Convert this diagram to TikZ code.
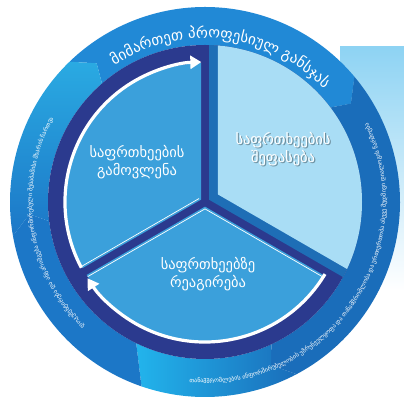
\documentclass[tikz,border=0pt]{standalone}
\usepackage{fontspec}
\setmainfont{DejaVu Sans}
\newfontfamily\geo{DejaVu Sans}
\usetikzlibrary{arrows.meta,decorations.text}
\definecolor{navy}{HTML}{2B3A8E}
\definecolor{piemid}{HTML}{3BA0DB}
\definecolor{lightface}{HTML}{A9DDF5}
\definecolor{bevel}{HTML}{1E6EB6}
\definecolor{bandtop}{HTML}{2189D6}
\definecolor{bandcyan}{HTML}{2AAAE2}
\definecolor{bandmid}{HTML}{1C77C7}
\definecolor{banddark}{HTML}{1A6DBA}
\definecolor{bandbot}{HTML}{22B4EC}
\definecolor{bglight}{HTML}{8ED3F3}
\tikzset{
  mainlabel/.style={text=white, align=center, font=\geo\fontsize{14.5}{18}\selectfont},
  whitearc/.style={white, line width=3.2pt, -{Triangle[width=13pt,length=11pt]}},
  edgeline/.style={white, line width=0.7pt},
}
\newcommand\bandseg[3]{%
  \path[#3] (#1:195) arc[start angle=#1,end angle=#2,radius=195]
    -- (#2-6:176) -- (#2-3:157) arc[start angle=#2-3,end angle=#1-3,radius=157]
    -- (#1-6:176) -- cycle;}
\begin{document}
\begin{tikzpicture}[x=1pt,y=1pt]
\useasboundingbox (0,0) rectangle (404,401);
% light background tab at top right
\fill[top color=bglight,bottom color=white] (340,354) rectangle (404,110);
\begin{scope}[shift={(205,199)}]
  % outer band segments
  \bandseg{134}{40}{fill=bandtop}
  \bandseg{40}{-62}{fill=banddark}
  \path[left color=bandbot,right color=banddark]
    (-62:195) arc[start angle=-62,end angle=-109,radius=195]
    -- (-116:157) arc[start angle=-116,end angle=-65,radius=157]
    -- (-68:176) -- cycle;
  \path[fill=bandmid]
    (-109:195) arc[start angle=-109,end angle=-170,radius=195]
    -- (-176:176) -- (-173:157) arc[start angle=-173,end angle=-116,radius=157]
    -- cycle;
  \bandseg{190}{134}{top color=bandcyan,bottom color=bandmid}
  % navy ring and dividers
  \fill[navy] (0,0) circle (157);
  \begin{scope}
    \clip (0,0) circle (139);
    \fill[piemid, shift={(150:4.62)}] (0,0) -- (90:300) -- (150:300) -- (210:300) -- cycle;
    \fill[piemid, shift={(270:4.62)}] (0,0) -- (210:300) -- (270:300) -- (330:300) -- cycle;
    \draw[edgeline] (150:6.9) -- ++(210:150);
    \draw[edgeline] (270:6.9) -- ++(210:150);
    \draw[edgeline] (270:6.9) -- ++(330:150);
  \end{scope}
  \begin{scope}
    \clip (0,0) circle (157);
    \fill[bevel, shift={(30:4.62)}] (0,0) -- (-30:300) -- (30:300) -- (90:300) -- cycle;
    \fill[lightface, shift={(30:15)}] (0,0) -- (-30:300) -- (30:300) -- (90:300) -- cycle;
  \end{scope}
  % white cycle arrows
  \draw[whitearc] (208:140) arc[start angle=208,end angle=91.5,radius=140];
  \draw[whitearc] (-31:140) arc[start angle=-31,end angle=-147,radius=140];
  % ring texts
  \path[decorate, decoration={text along path, text align=center,
    text={|\geo\fontsize{15}{15}\selectfont\color{white}|მიმართეთ პროფესიულ განსჯას}}]
    (135:164) arc[start angle=135,end angle=32,radius=164];
  \path[decorate, decoration={text along path, text align=center,
    text={|\geo\fontsize{6}{7}\selectfont\color{white}|დოკუმენტირება და ანგარიშგება ინფორმირებული შესაბამისი მხარის ჩართვა}}]
    (245:173) arc[start angle=245,end angle=132,radius=173];
  \path[decorate, decoration={text along path, text align=center,
    text={|\geo\fontsize{6}{7}\selectfont\color{white}|თანამშრომლების ინფორმირებულობის უზრუნველყოფა და თანამშრომლობა და ურთიერთობა ასევე მუდმივი დიალოგის წარმოება}}]
    (-106:181) arc[start angle=-106,end angle=37,radius=181];
\end{scope}
% main labels
\node[mainlabel, text=black, opacity=.35] (assshadow) at (284.3,250.8) {საფრთხეების\\შეფასება};
\node[mainlabel] (ident) at (137,239) {საფრთხეების\\გამოვლენა};
\node[mainlabel] (assess) at (283,252) {საფრთხეების\\შეფასება};
\node[mainlabel] (react) at (208,127) {საფრთხეებზე\\რეაგირება};
\end{tikzpicture}
\end{document}
